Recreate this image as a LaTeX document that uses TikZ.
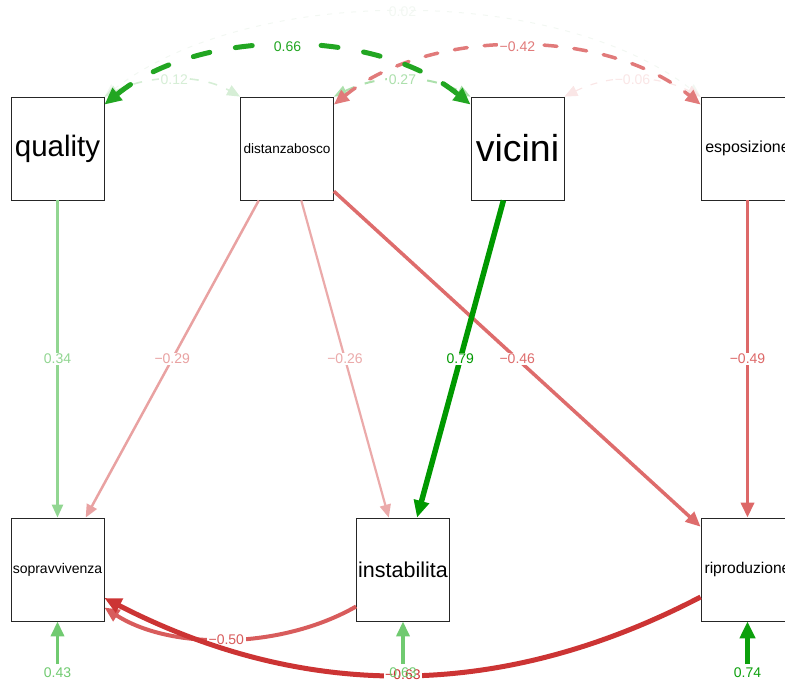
\documentclass[tikz,border=0pt]{standalone}
\usepackage{fontspec}
\setmainfont{Liberation Sans}
\usetikzlibrary{arrows.meta}
\definecolor{cA}{RGB}{0,153,0}      % 0.79
\definecolor{cB}{RGB}{12,160,12}    % 0.74
\definecolor{cC}{RGB}{34,166,34}    % 0.66
\definecolor{cD}{RGB}{112,202,112}  % 0.43 / 0.63 residual
\definecolor{cE}{RGB}{146,214,146}  % 0.34
\definecolor{cF}{RGB}{172,224,172}  % 0.27
\definecolor{cG}{RGB}{214,238,214}  % 0.12
\definecolor{cH}{RGB}{242,247,242}  % 0.02
\definecolor{rA}{RGB}{204,52,52}    % -0.63
\definecolor{rB}{RGB}{216,92,92}    % -0.50
\definecolor{rC}{RGB}{221,104,104}  % -0.49
\definecolor{rD}{RGB}{222,108,108}  % -0.46
\definecolor{rE}{RGB}{225,122,122}  % -0.42
\definecolor{rF}{RGB}{233,162,162}  % -0.29
\definecolor{rG}{RGB}{235,170,170}  % -0.26
\definecolor{rH}{RGB}{250,230,230}  % -0.06
\begin{document}
\begin{tikzpicture}[x=1pt,y=-1pt,
  box/.style={draw=black!85,line width=0.8pt,minimum width=93pt,minimum height=103pt,inner sep=0pt},
  lab/.style={fill=white,inner sep=1.5pt,font=\fontsize{14}{14}\selectfont},
  labnf/.style={inner sep=1.5pt,font=\fontsize{14}{14}\selectfont},
  tipS/.style={-{Triangle[length=13pt,width=11pt]}},
  tipM/.style={-{Triangle[length=15pt,width=13pt]}},
  tipL/.style={-{Triangle[length=17pt,width=15pt]}},
  dtipS/.style={{Triangle[length=13pt,width=11pt]}-{Triangle[length=13pt,width=11pt]}},
  dtipM/.style={{Triangle[length=15pt,width=13pt]}-{Triangle[length=15pt,width=13pt]}},
  dtipL/.style={{Triangle[length=17pt,width=15pt]}-{Triangle[length=17pt,width=15pt]}},
  ]
\useasboundingbox (0,0) rectangle (785,682);
% nodes
\node[box,font=\fontsize{29.5}{30}\selectfont] (qual) at (57.5,148.5) {quality};
\node[box,font=\fontsize{13.6}{14}\selectfont] (dist) at (287,148.5) {distanzabosco};
\node[box,font=\fontsize{37.5}{38}\selectfont] (vic) at (517.5,148.5) {vicini};
\node[box,font=\fontsize{16}{16}\selectfont] (espo) at (747.5,148.5) {esposizione};
\node[box,font=\fontsize{14}{14}\selectfont] (sopr) at (57.5,569.5) {sopravvivenza};
\node[box,font=\fontsize{21.5}{22}\selectfont] (inst) at (403,569.5) {instabilita};
\node[box,font=\fontsize{15.6}{16}\selectfont] (ripr) at (747.5,569.5) {riproduzione};

% covariances (top)
\draw[draw=cH,line width=1pt,dash pattern=on 5pt off 7pt,dtipS]
  (qual.north east) .. controls (250,-16) and (555,-16) .. node[labnf,text=cH]{0.02} (espo.north west);
\draw[draw=cG,line width=1.6pt,dash pattern=on 9pt off 10pt,dtipS]
  (qual.north east) .. controls (150,74) and (200,74) .. node[lab,text=cG]{0.12} (dist.north west);
\draw[draw=cF,line width=2pt,dash pattern=on 10pt off 11pt,dtipS]
  (dist.north east) .. controls (380,74) and (425,74) .. node[lab,text=cF]{0.27} (vic.north west);
\draw[draw=rH,line width=1.2pt,dash pattern=on 7pt off 9pt,dtipS]
  (vic.north east) .. controls (610,74) and (655,74) .. node[lab,text=rH]{−0.06} (espo.north west);
\draw[draw=rE,line width=3.5pt,dash pattern=on 13pt off 17pt,line cap=round,dtipM]
  ([yshift=-8pt]dist.north east) .. controls (430,27) and (605,27) .. node[lab,text=rE]{−0.42} ([yshift=-8pt]espo.north west);
\draw[draw=cC,line width=5pt,dash pattern=on 17pt off 26pt,line cap=round,dtipL]
  ([yshift=-8pt]qual.north east) .. controls (200,27) and (375,27) .. node[lab,text=cC]{0.66} ([yshift=-8pt]vic.north west);

% regressions
\draw[draw=cE,line width=2.5pt,tipS] (qual) -- node[lab,text=cE]{0.34} (sopr);
\draw[draw=rF,line width=2.5pt,tipS] (dist) -- node[lab,text=rF]{−0.29} (sopr);
\draw[draw=rG,line width=2.2pt,tipS] (dist) -- node[lab,text=rG]{−0.26} (inst);
\draw[draw=rD,line width=3.5pt,tipM] (dist) -- node[lab,text=rD]{−0.46} (ripr);
\draw[draw=cA,line width=5.5pt,tipL] (vic) -- node[lab,text=cA]{0.79} (inst);
\draw[draw=rC,line width=3.5pt,tipM] (espo) -- node[lab,text=rC]{−0.49} (ripr);

% bottom curves
\draw[draw=rB,line width=4pt,tipM]
  ([yshift=-37pt]inst.west) .. controls (280,650) and (170,650) .. node[lab,text=rB]{−0.50} ([yshift=-38pt]sopr.east);
\draw[draw=rA,line width=5pt,tipL]
  ([yshift=-27.5pt]ripr.west) .. controls (501,701) and (305,701) .. node[lab,text=rA]{−0.63} ([yshift=-28.5pt]sopr.east);

% residuals
\coordinate (r1) at (57.5,664);
\coordinate (r2) at (403,664);
\coordinate (r3) at (747.5,664);
\draw[draw=cD,line width=3.5pt,tipM] (r1) -- (sopr.south);
\draw[draw=cD,line width=3.5pt,tipM] (r2) -- (inst.south);
\draw[draw=cB,line width=5pt,tipL] (r3) -- (ripr.south);
\node[labnf,text=cD] (l1) at (57.5,673) {0.43};
\node[labnf,text=cD] (l2) at (403,673) {0.63};
\node[labnf,text=cB] (l3) at (747.5,673) {0.74};
\end{tikzpicture}
\end{document}
